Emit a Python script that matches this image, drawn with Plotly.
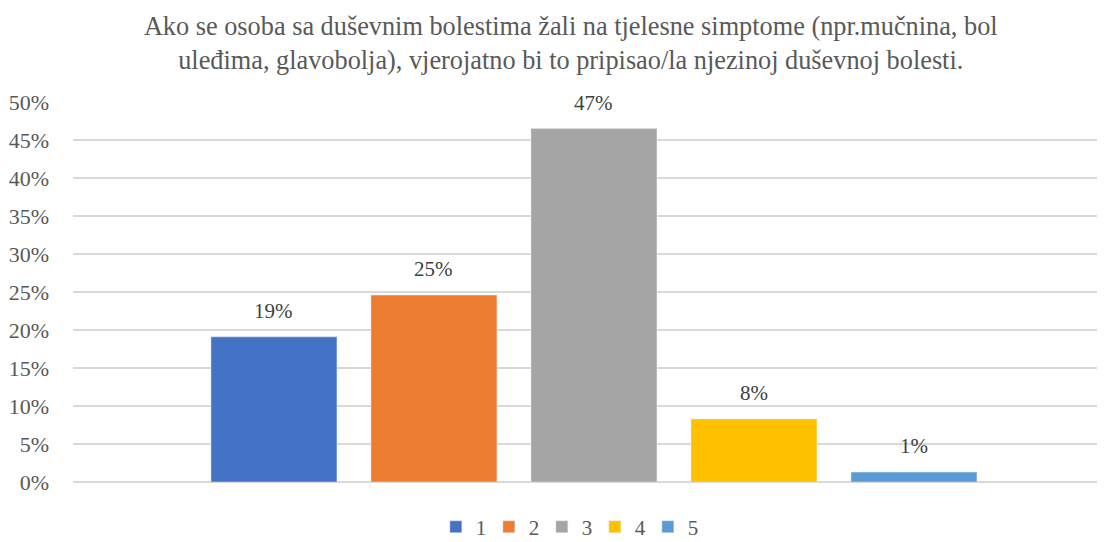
import plotly.graph_objects as go

# survey answer scale and share of respondents
answers = ['1', '2', '3', '4', '5']
shares = [0.191, 0.246, 0.465, 0.083, 0.013]
labels = ['19%', '25%', '47%', '8%', '1%']
colors = ['#4472C4', '#ED7D31', '#A5A5A5', '#FFC000', '#5B9BD5']

title = ('Ako se osoba sa duševnim bolestima žali na tjelesne simptome (npr.mučnina, bol<br>'
         'uleđima, glavobolja), vjerojatno bi to pripisao/la njezinoj duševnoj bolesti.')

font = 'Liberation Serif'

fig = go.Figure()
for i, (ans, val, lab, col) in enumerate(zip(answers, shares, labels, colors)):
    fig.add_trace(go.Bar(x=[ans], y=[val], name=ans, marker_color=col,
                         width=0.7875, hoverinfo='name+y'))
    # data label above each bar
    fig.add_annotation(x=i, y=val, text=lab, showarrow=False,
                       yanchor='bottom', yshift=12,
                       font=dict(family=font, size=21, color='#404040'))

# page body has an 8px margin, so the figure is 8px smaller than the window
fig.update_layout(
    width=1097, height=534,
    margin=dict(l=65, r=0, t=94, b=60, autoexpand=False),
    paper_bgcolor='white', plot_bgcolor='white',
    barmode='overlay',
    font=dict(family=font, color='#595959'),
    title=dict(text=title, x=0.513, xanchor='center', y=0.95, yanchor='top',
               font=dict(family=font, size=26.3, color='#595959')),
    legend=dict(orientation='h', x=0.48, xanchor='center',
                yref='container', y=0.028, yanchor='middle',
                font=dict(family=font, size=21, color='#595959'),
                itemwidth=30, entrywidth=8, traceorder='normal'),
)
fig.update_xaxes(type='category', range=[-1.256, 5.194], showticklabels=False,
                 showgrid=False, zeroline=False, showline=False)
fig.update_yaxes(range=[0, 0.5], dtick=0.05, tickformat='.0%',
                 showgrid=True, gridcolor='#d9d9d9', gridwidth=1.5,
                 zeroline=True, zerolinecolor='#d9d9d9', zerolinewidth=1.5,
                 tickfont=dict(family=font, size=22, color='#595959'),
                 ticks='', ticklabelstandoff=23, automargin=False)

fig.write_html('out.html')
